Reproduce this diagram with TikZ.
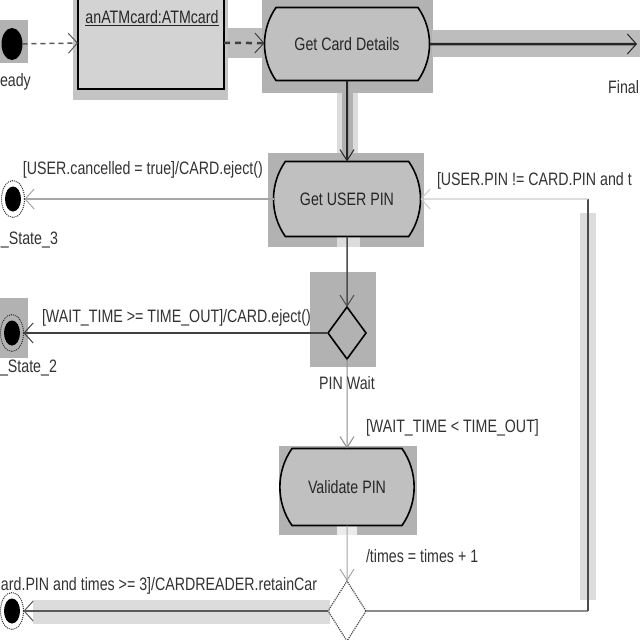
\documentclass[tikz,border=0pt]{standalone}
\usepackage{fontspec}
\setmainfont{Liberation Sans}[FakeStretch=0.79]
\usetikzlibrary{shapes.geometric,shapes.misc,arrows.meta}
\definecolor{bgA}{HTML}{B2B2B2}
\definecolor{actfill}{HTML}{C0C0C0}
\definecolor{objfill}{HTML}{D3D3D3}
\definecolor{objbg}{HTML}{C4C4C4}
\definecolor{bandB}{HTML}{BDBDBD}
\definecolor{bandL}{HTML}{DCDCDC}
\definecolor{bandM}{HTML}{B0B0B0}
\definecolor{txt}{HTML}{333333}
\begin{document}
\begin{tikzpicture}[x=1pt,y=-1pt,
  every node/.style={font=\fontsize{18}{21}\selectfont, inner sep=0pt, outer sep=0pt},
  act/.style={rounded rectangle, rounded rectangle arc length=70, draw=black, line width=1.6pt, fill=actfill, text=black!85},
  lbl/.style={text=txt},
  finalst/.style={ellipse, draw=black!80, densely dotted, line width=1pt, minimum width=23pt, minimum height=37pt,
    path picture={\fill[black] (path picture bounding box.center) ellipse (8pt and 12.5pt);}},
  harr/.style={-{Straight Barb[length=9pt,width=20pt,line width=1pt]}},
  varr/.style={-{Straight Barb[length=11pt,width=14pt,line width=1pt]}}]
\useasboundingbox (0,0) rectangle (640,640);
\fill[white] (0,0) rectangle (640,640);
\clip (0,0) rectangle (640,640);
% backdrops and connector bands
\fill[bgA] (0,20) rectangle (28,63);
\fill[objbg] (73,0) rectangle (228,100);
\fill[bandB] (228,28) rectangle (262,58);
\fill[bgA] (262,0) rectangle (433,93);
\fill[bandB] (432,30) rectangle (640,57);
\fill[bandL] (337,93) rectangle (358,153);
\fill[bandM] (342,93) rectangle (353,153);
\fill[bgA] (268,153) rectangle (424,247);
\fill[bandL] (337,237) rectangle (360,247);
\fill[bgA] (310,272) rectangle (376,367);
\fill[bgA] (0,298) rectangle (28,358);
\fill[bgA] (279,446) rectangle (417,535);
\fill[black!8] (337,526) rectangle (357,535);
\fill[bandL] (33,600) rectangle (330,624);
\fill[bandL] (580,213) rectangle (596,600);
% nodes
\node[ellipse, fill=black, minimum width=21pt, minimum height=32pt] (ready) at (12,44) {};
\node[draw=black, line width=1.8pt, fill=objfill, minimum width=146pt, minimum height=94pt] (obj) at (151,42) {};
\node[text=black!85] (objtxt) at (152,18) {\underline{anATMcard:ATMcard}};
\node[act, minimum width=165pt, minimum height=73pt] (gcd) at (347,44) {Get Card Details};
\node[act, minimum width=147pt, minimum height=75pt] (gup) at (347,199) {Get USER PIN};
\node[diamond, draw=black, line width=1.6pt, minimum width=38pt, minimum height=52pt] (pw) at (347,333) {};
\node[act, minimum width=132pt, minimum height=77pt] (vp) at (347,487) {Validate PIN};
\node[diamond, draw=black!70, densely dotted, line width=1.2pt, minimum width=38pt, minimum height=60pt] (dec) at (347,611) {};
\node[finalst] (fs3) at (13,199) {};
\node[finalst] (fs2) at (12,333) {};
\node[finalst] (fs4) at (12,611) {};
\coordinate (fin) at (637,44);
\coordinate (c1) at (588,611);
\coordinate (c2) at (588,199);
% connectors
\draw[harr, black!65, line width=1.5pt, dash pattern=on 5pt off 4pt] (ready) -- (obj);
\draw[harr, black!75, line width=2.5pt, dash pattern=on 6pt off 5pt] (obj) -- (gcd);
\draw[harr, black!85, line width=2.5pt] (gcd) -- (fin);
\draw[varr, black!85, line width=2pt] (gcd) -- (gup);
\draw[harr, black!35, line width=1.2pt] (gup) -- (fs3);
\draw[varr, black!70, line width=1.5pt] (gup) -- (pw);
\draw[harr, black!75, line width=2pt] (pw) -- (fs2);
\draw[varr, black!45, line width=1pt] (pw) -- (vp);
\draw[varr, black!35, line width=1pt] (vp) -- (dec);
\draw[harr, black!65, line width=2pt] (dec) -- (fs4);
\draw[black!45, line width=1.5pt] (dec) -- (c1);
\draw[black!70, line width=2pt] (c1) -- (c2);
\draw[harr, black!20, line width=1.2pt] (c2) -- (gup);
% labels (as far as the picture shows them)
\node[lbl, anchor=west] (lready) at (0,82) {eady};
\node[lbl, anchor=east] (lfinal) at (639,87) {Final};
\node[lbl, anchor=west] (l1) at (23,170) {[USER.cancelled = true]/CARD.eject()};
\node[lbl, anchor=west] (ls3) at (1,240) {\_State\_3};
\node[lbl, anchor=west] (l2) at (42,318) {[WAIT\_TIME >= TIME\_OUT]/CARD.eject()};
\node[lbl, anchor=west] (ls2) at (0,368) {\_State\_2};
\node[lbl] (lpw) at (347,383) {PIN Wait};
\node[lbl, anchor=west] (l3) at (366,428) {[WAIT\_TIME < TIME\_OUT]};
\node[lbl, anchor=west] (l4) at (366,556) {/times = times + 1};
\node[lbl, anchor=west] (l5) at (437,181) {[USER.PIN != CARD.PIN and t};
\node[lbl, anchor=west] (l6) at (1,586) {ard.PIN and times >= 3]/CARDREADER.retainCar};
\end{tikzpicture}
\end{document}
